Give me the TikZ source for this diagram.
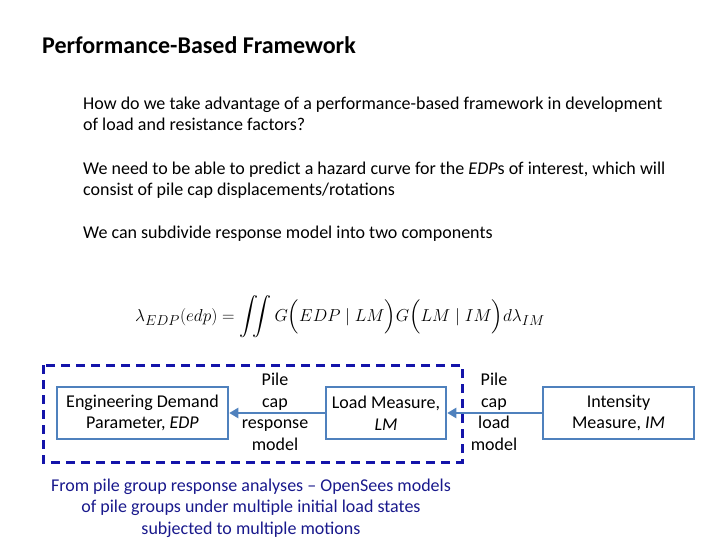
\documentclass[tikz,border=0pt]{standalone}
\usepackage{amsmath}
\usepackage{amssymb}
\usepackage{fontspec}
\setmainfont{Carlito}
\usepackage{xcolor}
\usetikzlibrary{arrows.meta}
\definecolor{boxblue}{RGB}{79,129,189}
\definecolor{framenavy}{RGB}{20,20,170}
\definecolor{notenavy}{RGB}{25,25,140}
\tikzset{
    model-box/.style = {draw=boxblue, line width=2.5pt, rectangle, minimum height=52pt, align=center, inner sep=2pt, font=\fontsize{18}{21.5}\selectfont},
    dash-frame/.style = {draw=framenavy, line width=3pt, dash pattern=on 9pt off 6pt},
    flow-arrow/.style = {draw=boxblue, line width=2.5pt, -{Triangle[length=9pt,width=10pt]}},
    model-label/.style = {align=center, inner sep=0pt, font=\fontsize{18}{21.5}\selectfont},
    body-text/.style = {anchor=base west, align=left, inner sep=0pt, font=\fontsize{18}{21.5}\selectfont},
}

\begin{document}
\begin{tikzpicture}[x=1pt,y=-1pt]
\useasboundingbox (0,0) rectangle (720,540);
% heading and bullet text (base = last line)
\node[anchor=base west, inner sep=0pt, font=\fontsize{24}{28}\selectfont\bfseries] (title) at (42,54) {Performance-Based Framework};
\node[body-text] (q1) at (83,131) {How do we take advantage of a performance-based framework in development\\of load and resistance factors?};
\node[body-text] (q2) at (83,196) {We need to be able to predict a hazard curve for the \textit{EDP}s of interest, which will\\consist of pile cap displacements/rotations};
\node[body-text] (q3) at (83,239) {We can subdivide response model into two components};
% hazard integral
\node[inner sep=0pt, font=\fontsize{19}{24}\selectfont] (eq) at (340,317)
    {$\lambda_{EDP}(edp)=\displaystyle\iint G\Bigl(EDP\mid LM\Bigr)G\Bigl(LM\mid IM\Bigr)d\lambda_{IM}$};
% dashed frame round the response model
\draw[dash-frame] (43,365) rectangle (462,462);
% the three measures
\node[model-box, minimum width=171pt] (edp) at (142.5,413) {Engineering Demand\\Parameter, \textit{EDP}};
\node[model-box, minimum width=120pt] (lm) at (386,413) {Load Measure,\\\textit{LM}};
\node[model-box, minimum width=151pt] (im) at (618.5,413) {Intensity\\Measure, \textit{IM}};
\draw[flow-arrow] (lm.west) -- (edp.east);
\draw[flow-arrow] (im.west) -- (lm.east);
\node[model-label] (resp) at (275,412) {Pile\\cap\\response\\model};
\node[model-label] (load) at (494,412) {Pile\\cap\\load\\model};
% note on where the response model comes from
\node[model-label, text=notenavy] (note) at (251,508) {From pile group response analyses -- OpenSees models\\of pile groups under multiple initial load states\\subjected to multiple motions};
\end{tikzpicture}
\end{document}
